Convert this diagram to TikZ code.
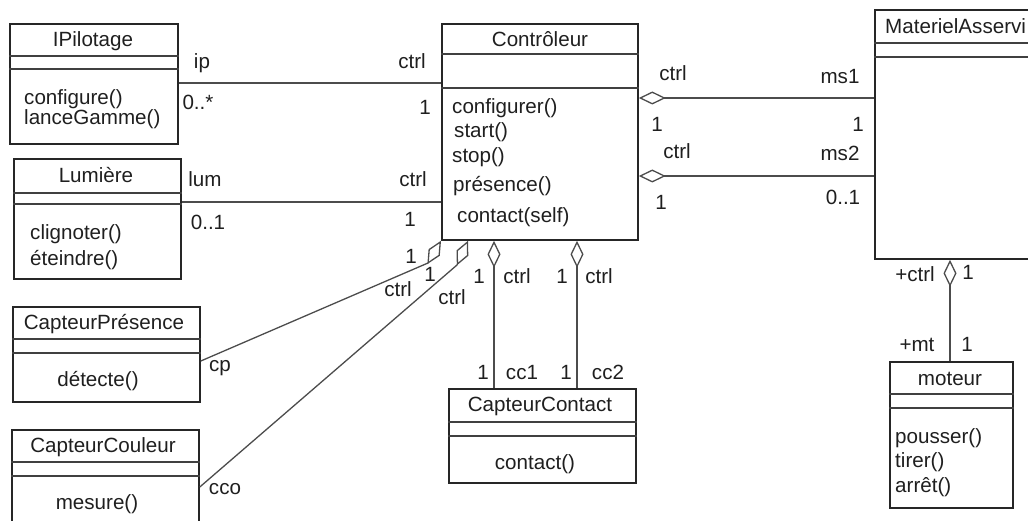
\documentclass[tikz,border=0pt]{standalone}
\usepackage{fontspec}
\setmainfont{Liberation Sans}
\usetikzlibrary{arrows.meta}
\begin{document}
\begin{tikzpicture}[x=1pt,y=-1pt,
  every node/.style={font=\fontsize{20.6}{24}\selectfont, text=black!88, inner sep=0pt},
  cls/.style={draw=black!85, line width=1.8pt, anchor=north west, inner sep=0pt},
  sepline/.style={draw=black!75, line width=1.6pt},
  txt/.style={text height=13pt, text depth=0pt},
  meth/.style={txt, anchor=west},
  assoc/.style={draw=black!70, line width=1.3pt},
  aggS/.style={assoc, arrows={{Diamond[open,length=27pt,width=13pt]}-}},
  aggE/.style={assoc, arrows={-{Diamond[open,length=27pt,width=13pt]}}},
]
\useasboundingbox (0,0) rectangle (1028,521);
\clip (0,0) rectangle (1028,521);

% class boxes
\node[cls, minimum width=168pt, minimum height=120pt] (ipil)  at (9,23)   {};
\node[cls, minimum width=167pt, minimum height=120pt] (lum)   at (13,158) {};
\node[cls, minimum width=196pt, minimum height=216pt] (ctrl)  at (441,23) {};
\node[cls, minimum width=200pt, minimum height=249pt] (mat)   at (874,9)  {};
\node[cls, minimum width=123pt, minimum height=146pt] (mot)   at (889,361) {};
\node[cls, minimum width=187pt, minimum height=95pt]  (cpres) at (12,306) {};
\node[cls, minimum width=187pt, minimum height=120pt] (ccoul) at (11,429) {};
\node[cls, minimum width=187pt, minimum height=94pt]  (ccont) at (448,388) {};

% compartment separators
\draw[sepline] (ipil.west |- 0,56) -- (ipil.east |- 0,56) (ipil.west |- 0,69) -- (ipil.east |- 0,69);
\draw[sepline] (lum.west |- 0,193) -- (lum.east |- 0,193) (lum.west |- 0,204) -- (lum.east |- 0,204);
\draw[sepline] (ctrl.west |- 0,54) -- (ctrl.east |- 0,54) (ctrl.west |- 0,88) -- (ctrl.east |- 0,88);
\draw[sepline] (mat.west |- 0,43) -- (mat.east |- 0,43) (mat.west |- 0,57) -- (mat.east |- 0,57);
\draw[sepline] (mot.west |- 0,394) -- (mot.east |- 0,394) (mot.west |- 0,408) -- (mot.east |- 0,408);
\draw[sepline] (cpres.west |- 0,339) -- (cpres.east |- 0,339) (cpres.west |- 0,353) -- (cpres.east |- 0,353);
\draw[sepline] (ccoul.west |- 0,462) -- (ccoul.east |- 0,462) (ccoul.west |- 0,476) -- (ccoul.east |- 0,476);
\draw[sepline] (ccont.west |- 0,422) -- (ccont.east |- 0,422) (ccont.west |- 0,436) -- (ccont.east |- 0,436);

% class names
\node[txt] (ipil-n)  at (93,40)   {IPilotage};
\node[txt] (lum-n)   at (96,176)  {Lumière};
\node[txt] (ctrl-n)  at (540,40)  {Contrôleur};
\node[txt, anchor=west] (mat-n) at (885,27) {MaterielAsservi};
\node[txt] (mot-n)   at (950,379) {moteur};
\node[txt] (cpres-n) at (104,323) {CapteurPrésence};
\node[txt] (ccoul-n) at (103,446) {CapteurCouleur};
\node[txt] (ccont-n) at (540,405) {CapteurContact};

% operations
\node[meth] (ipil-m1) at (24,98)  {configure()};
\node[meth] (ipil-m2) at (24,118) {lanceGamme()};
\node[meth] (lum-m1)  at (30,233) {clignoter()};
\node[meth] (lum-m2)  at (30,259) {éteindre()};
\node[meth] (ctrl-m1) at (452,107) {configurer()};
\node[meth] (ctrl-m2) at (454,131) {start()};
\node[meth] (ctrl-m3) at (452,156) {stop()};
\node[meth] (ctrl-m4) at (453,185) {présence()};
\node[meth] (ctrl-m5) at (457,216) {contact(self)};
\node[meth] (mot-m1)  at (895,437) {pousser()};
\node[meth] (mot-m2)  at (895,461) {tirer()};
\node[meth] (mot-m3)  at (895,486) {arrêt()};
\node[txt]  (cpres-m1) at (98,380) {détecte()};
\node[txt]  (ccoul-m1) at (97,503) {mesure()};
\node[txt]  (ccont-m1) at (535,463) {contact()};

% associations
\draw[assoc] (ipil.east |- 0,83) -- (ctrl.west |- 0,83);
\draw[assoc] (lum.east |- 0,202) -- (ctrl.west |- 0,202);
\draw[aggS] (ctrl.east |- 0,98) -- (mat.west |- 0,98);
\draw[aggS] (ctrl.east |- 0,176) -- (mat.west |- 0,176);
\draw[aggS] (mat.south -| 950,0) -- (mot.north -| 950,0);
\draw[aggS] (ctrl.south -| 494,0) -- (ccont.north -| 494,0);
\draw[aggS] (ctrl.south -| 577,0) -- (ccont.north -| 577,0);
\coordinate (kP) at (428,263);
\coordinate (kC) at (457,265);
\draw[aggE] (cpres.east |- 0,361) -- (kP) -- (ctrl.south west);
\draw[aggE] (ccoul.east |- 0,487) -- (kC) -- (ctrl.south -| 468,0);

% role names and multiplicities
\node[txt] (r1)  at (202,62)  {ip};
\node[txt] (r2)  at (198,103) {0..*};
\node[txt] (r3)  at (412,62)  {ctrl};
\node[txt] (r4)  at (425,108) {1};
\node[txt] (r5)  at (205,180) {lum};
\node[txt] (r6)  at (208,223) {0..1};
\node[txt] (r7)  at (413,180) {ctrl};
\node[txt] (r8)  at (410,220) {1};
\node[txt] (r9)  at (673,74)  {ctrl};
\node[txt] (r10) at (657,125) {1};
\node[txt] (r11) at (840,77)  {ms1};
\node[txt] (r12) at (858,125) {1};
\node[txt] (r13) at (677,152) {ctrl};
\node[txt] (r14) at (661,203) {1};
\node[txt] (r15) at (840,154) {ms2};
\node[txt] (r16) at (843,198) {0..1};
\node[txt] (r17) at (915,275) {+ctrl};
\node[txt] (r18) at (968,273) {1};
\node[txt] (r19) at (917,345) {+mt};
\node[txt] (r20) at (967,345) {1};
\node[txt] (r21) at (411,257) {1};
\node[txt] (r22) at (430,275) {1};
\node[txt] (r23) at (398,290) {ctrl};
\node[txt] (r24) at (452,298) {ctrl};
\node[txt] (r25) at (479,277) {1};
\node[txt] (r26) at (517,277) {ctrl};
\node[txt] (r27) at (562,277) {1};
\node[txt] (r28) at (599,277) {ctrl};
\node[txt] (r29) at (483,373) {1};
\node[txt] (r30) at (522,373) {cc1};
\node[txt] (r31) at (566,373) {1};
\node[txt] (r32) at (608,373) {cc2};
\node[txt] (r33) at (220,365) {cp};
\node[txt] (r34) at (225,488) {cco};
\end{tikzpicture}
\end{document}
